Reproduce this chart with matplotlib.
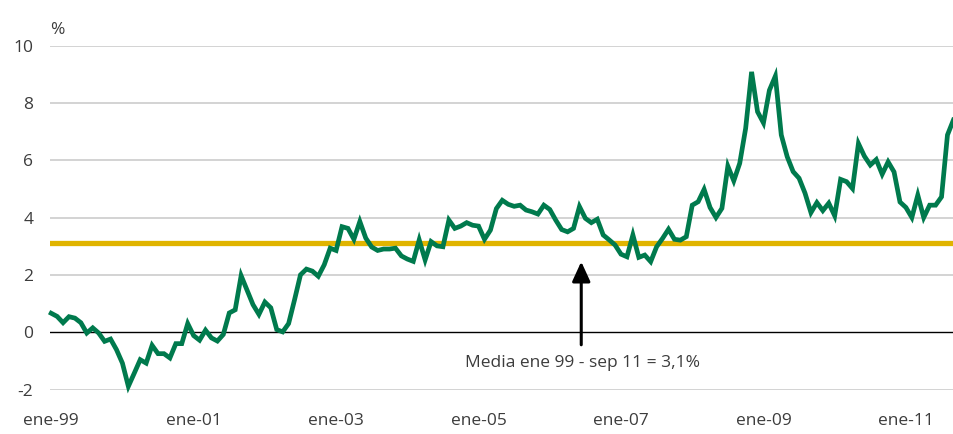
import matplotlib
matplotlib.use("Agg")
import matplotlib.pyplot as plt

# Tasa mensual, ene-99 a sep-11 (%)
valores = [
    0.66, 0.55, 0.33, 0.54, 0.49, 0.33, -0.03, 0.15, -0.03, -0.32,
    -0.24, -0.61, -1.08, -1.89, -1.43, -0.96, -1.08, -0.46, -0.75, -0.75,
    -0.90, -0.40, -0.40, 0.30, -0.12, -0.28, 0.07, -0.20, -0.31, -0.08,
    0.67, 0.78, 1.97, 1.46, 0.96, 0.62, 1.05, 0.85, 0.09, 0.01,
    0.30, 1.13, 2.00, 2.20, 2.13, 1.95, 2.35, 2.93, 2.85, 3.68,
    3.62, 3.24, 3.86, 3.28, 2.97, 2.85, 2.90, 2.90, 2.93, 2.66,
    2.55, 2.47, 3.22, 2.52, 3.16, 3.01, 2.98, 3.91, 3.62, 3.70,
    3.82, 3.73, 3.70, 3.24, 3.56, 4.31, 4.60, 4.46, 4.39, 4.43,
    4.26, 4.20, 4.12, 4.43, 4.28, 3.91, 3.58, 3.50, 3.62, 4.38,
    3.97, 3.82, 3.94, 3.39, 3.22, 3.04, 2.72, 2.63, 3.39, 2.61,
    2.69, 2.46, 2.98, 3.27, 3.59, 3.24, 3.21, 3.33, 4.43, 4.55,
    4.98, 4.35, 4.00, 4.32, 5.79, 5.28, 5.89, 7.11, 9.08, 7.69,
    7.30, 8.44, 8.93, 6.88, 6.12, 5.60, 5.37, 4.85, 4.17, 4.52,
    4.24, 4.50, 4.06, 5.33, 5.25, 5.01, 6.58, 6.14, 5.83, 6.02,
    5.51, 5.94, 5.59, 4.54, 4.35, 4.00, 4.78, 4.00, 4.43, 4.43,
    4.72, 6.88, 7.40,
]
meses = list(range(len(valores)))
media = 3.1

etiquetas_x = ["ene-99", "ene-01", "ene-03", "ene-05", "ene-07", "ene-09", "ene-11"]
pos_x = [0, 24, 48, 72, 96, 120, 144]
ticks_y = [-2, 0, 2, 4, 6, 8, 10]

verde = "#007a4d"
amarillo = "#e0b400"
gris_texto = "#3c3c3c"

plt.rcParams["font.family"] = ["Open Sans", "DejaVu Sans"]

fig = plt.figure(figsize=(9.54, 4.34), dpi=100)
ax = fig.add_axes([50 / 954, 1 - 389.5 / 434, 1 - 50 / 954, (389.5 - 45.5) / 434])

# Rejilla horizontal
for v in ticks_y:
    if v == 0:
        ax.axhline(v, color="black", lw=1.0, zorder=2)
    else:
        ax.axhline(v, color="#cccccc", lw=1.2, zorder=1)

ax.axhline(media, color=amarillo, lw=3.8, zorder=3)
ax.plot(meses, valores, color=verde, lw=3.4, zorder=4, clip_on=False,
        solid_joinstyle="miter")

# Flecha y texto de la media
ax.annotate("", xy=(89.3, 2.46), xytext=(89.3, -0.44),
            arrowprops=dict(arrowstyle="-|>,head_length=12,head_width=5.5",
                            mutation_scale=1, lw=2.2, color="black",
                            shrinkA=0, shrinkB=0), zorder=5)
ax.text(89.5, -1.08, "Media ene 99 - sep 11 = 3,1%", ha="center", va="center",
        fontsize=12.5, color=gris_texto)

ax.text(0, 1.045, "%", transform=ax.transAxes, ha="left", va="center",
        fontsize=12.5, color=gris_texto)

ax.set_xlim(-0.2, 152.1)
ax.set_ylim(-2, 10)
ax.set_xticks(pos_x)
ax.set_xticklabels(etiquetas_x)
ax.set_yticks(ticks_y)
ax.set_yticklabels([str(t) for t in ticks_y])
ax.tick_params(axis="both", length=0, labelsize=12.5, labelcolor=gris_texto)
ax.tick_params(axis="y", pad=12)
ax.tick_params(axis="x", pad=17)
for s in ax.spines.values():
    s.set_visible(False)

fig.savefig("out.png", dpi=100)
